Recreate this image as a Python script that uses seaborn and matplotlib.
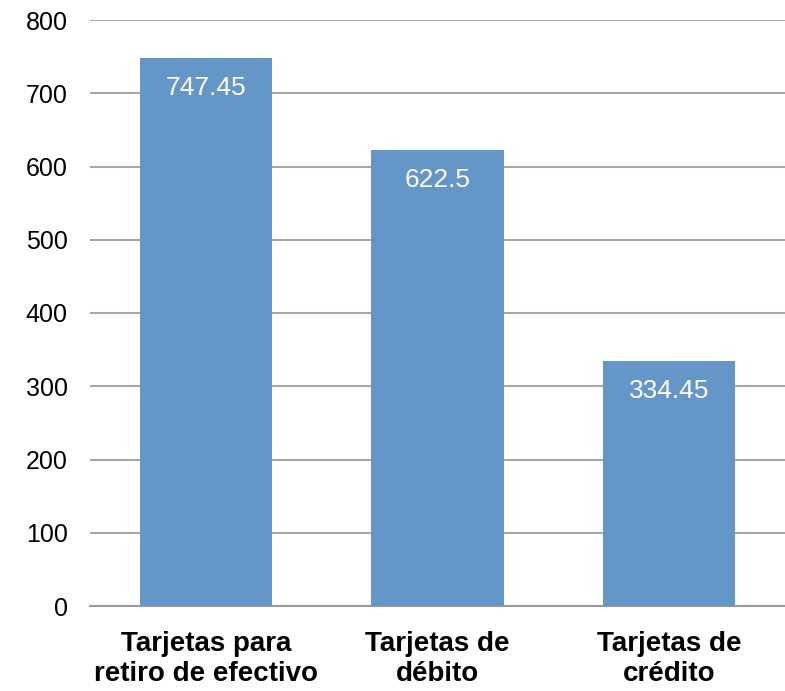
import matplotlib
matplotlib.use("Agg")
import matplotlib.pyplot as plt
import seaborn as sns
import pandas as pd

categories = ["Tarjetas para\nretiro de efectivo", "Tarjetas de\ndébito", "Tarjetas de\ncrédito"]
values = [747.45, 622.5, 334.45]
value_labels = ["747.45", "622.5", "334.45"]
yticks = [0, 100, 200, 300, 400, 500, 600, 700, 800]

sns.set_theme(style="white")
plt.rcParams['font.family'] = ['Liberation Sans', 'DejaVu Sans']

df = pd.DataFrame({"cat": categories, "val": values})

fig = plt.figure(figsize=(7.85, 6.91), dpi=100)
ax = fig.add_axes([90/785, 85/691, 695/785, (606-20)/691])

sns.barplot(data=df, x="cat", y="val", color="#6496C8", saturation=1, width=0.57,
            linewidth=0, ax=ax, zorder=3)

ax.set_ylim(0, 800)
ax.set_xlim(-0.5, 2.5)
ax.set_yticks(yticks)
ax.set_yticklabels([str(t) for t in yticks], fontsize=18, color="black")
for t in yticks[1:]:
    ax.axhline(t, color="#a6a6a6", lw=1.5, zorder=1)
ax.set_xlabel("")
ax.set_ylabel("")
for s in ["top", "right", "left"]:
    ax.spines[s].set_visible(False)
ax.spines["bottom"].set_color("#999999")
ax.spines["bottom"].set_linewidth(1.5)
ax.tick_params(axis="y", length=0, pad=16)
ax.tick_params(axis="x", length=0, pad=18)
for lbl in ax.get_xticklabels():
    lbl.set_fontweight("bold")
    lbl.set_fontsize(20)
    lbl.set_color("black")
    lbl.set_linespacing(1.22)

for i, (v, l) in enumerate(zip(values, value_labels)):
    ax.annotate(l, xy=(i, v), xytext=(0, -30), textcoords="offset pixels",
                ha="center", va="center", color="white", fontsize=19, zorder=4)

fig.savefig("out.png", dpi=100)
